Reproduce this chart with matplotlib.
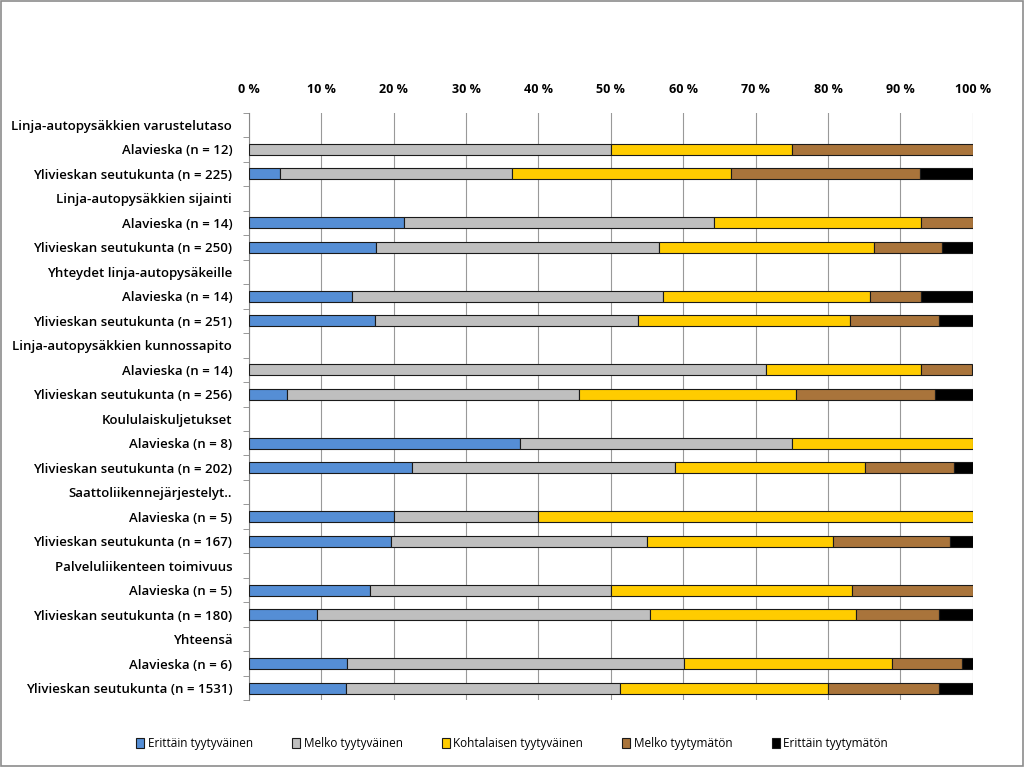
import matplotlib
matplotlib.use("Agg")
import matplotlib.pyplot as plt
from matplotlib.patches import Rectangle
import numpy as np

plt.rcParams["font.family"] = ["Open Sans", "DejaVu Sans"]

# ── Data ─────────────────────────────────────────────────────────────────
groups = [
    "Linja-autopysäkkien varustelutaso",
    "Linja-autopysäkkien sijainti",
    "Yhteydet linja-autopysäkeille",
    "Linja-autopysäkkien kunnossapito",
    "Koululaiskuljetukset",
    "Saattoliikennejärjestelyt..",
    "Palveluliikenteen toimivuus",
    "Yhteensä",
]
alav_labels = ["Alavieska (n = 12)", "Alavieska (n = 14)", "Alavieska (n = 14)",
               "Alavieska (n = 14)", "Alavieska (n = 8)", "Alavieska (n = 5)",
               "Alavieska (n = 5)", "Alavieska (n = 6)"]
ylk_labels = ["Ylivieskan seutukunta (n = 225)", "Ylivieskan seutukunta (n = 250)",
              "Ylivieskan seutukunta (n = 251)", "Ylivieskan seutukunta (n = 256)",
              "Ylivieskan seutukunta (n = 202)", "Ylivieskan seutukunta (n = 167)",
              "Ylivieskan seutukunta (n = 180)", "Ylivieskan seutukunta (n = 1531)"]

series = ["Erittäin tyytyväinen", "Melko tyytyväinen", "Kohtalaisen tyytyväinen",
          "Melko tyytymätön", "Erittäin tyytymätön"]

# percent shares per group: [erittäin tyyt., melko tyyt., kohtalainen, melko tyytym., erittäin tyytym.]
alav_vals = [
    [0.0, 50.0, 25.0, 25.0, 0.0],
    [21.4, 42.9, 28.6, 7.1, 0.0],
    [14.3, 42.9, 28.6, 7.1, 7.1],
    [0.0, 71.4, 21.4, 7.1, 0.0],
    [37.5, 37.5, 25.0, 0.0, 0.0],
    [20.0, 20.0, 60.0, 0.0, 0.0],
    [16.7, 33.3, 33.3, 16.7, 0.0],
    [13.5, 46.6, 28.8, 9.6, 1.5],
]
ylk_vals = [
    [4.3, 32.0, 30.3, 26.1, 7.3],
    [17.6, 39.1, 29.6, 9.5, 4.2],
    [17.4, 36.4, 29.3, 12.3, 4.6],
    [5.3, 40.3, 30.0, 19.2, 5.2],
    [22.6, 36.2, 26.3, 12.3, 2.6],
    [19.6, 35.4, 25.7, 16.2, 3.1],
    [9.4, 46.0, 28.4, 11.6, 4.6],
    [13.4, 37.8, 28.8, 15.4, 4.6],
]

colors = ["#558ED5", "#BFBFBF", "#FFCC00", "#A9743B", "#000000"]

# ── Build rows: header, Alavieska, Ylivieska ─────────────────────────────
row_labels = []
row_vals = []
for g, al, yl, av, yv in zip(groups, alav_labels, ylk_labels, alav_vals, ylk_vals):
    row_labels += [g, al, yl]
    row_vals += [[0.0] * 5, av, yv]
row_vals = np.array(row_vals)
n = len(row_labels)
ys = np.arange(n)

fig = plt.figure(figsize=(10.24, 7.67), dpi=100)
ax = fig.add_axes([0.243, 0.087, 0.707, 0.766])

left = np.zeros(n)
for i, (name, c) in enumerate(zip(series, colors)):
    v = row_vals[:, i]
    keep = v > 0  # skip empty segments so no stray edge lines are drawn
    ax.barh(ys[keep], v[keep], left=left[keep], height=0.45, color=c,
            edgecolor="#1a1a1a", linewidth=0.8, label=name, zorder=3)
    left += v

ax.set_xlim(0, 100)
ax.set_ylim(n - 0.5, -0.5)
ax.set_xticks(np.arange(0, 101, 10))
ax.set_xticklabels([f"{t} %" for t in range(0, 101, 10)], fontsize=9, fontweight="bold")
ax.xaxis.tick_top()
ax.tick_params(axis="x", length=0, pad=12)

ax.set_yticks(ys)
ax.set_yticklabels(row_labels, fontsize=9.5, fontweight="semibold")
ax.set_yticks(np.arange(-0.5, n, 1), minor=True)
ax.tick_params(axis="y", which="major", length=0, pad=12)
ax.tick_params(axis="y", which="minor", length=4, color="#888888")

ax.grid(axis="x", color="#999999", linewidth=0.8, zorder=0)
for s in ["top", "right", "bottom"]:
    ax.spines[s].set_visible(False)
ax.spines["left"].set_color("#888888")

ax.legend(loc="center", bbox_to_anchor=(0.5, 0.031), bbox_transform=fig.transFigure,
          ncol=5, frameon=False, fontsize=8.5, handlelength=0.7, handleheight=0.9,
          handletextpad=0.3, columnspacing=3.3)

fig.patches.append(Rectangle((0.001, 0.001), 0.998, 0.998, transform=fig.transFigure,
                             fill=False, edgecolor="#8c8c8c", linewidth=1.2))

plt.savefig("out.png", dpi=100)
plt.close()
